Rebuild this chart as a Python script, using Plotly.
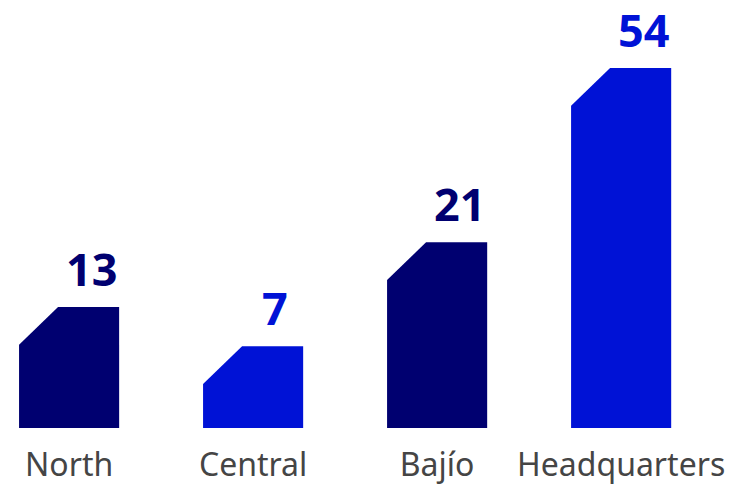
import plotly.graph_objects as go

# Regions and their headline values
regions = ["North", "Central", "Bajío", "Headquarters"]
values = [13, 7, 21, 54]
# Bar heights as drawn (relative, tallest = 100) - not proportional to values
bar_heights = [33.6, 22.7, 51.6, 100]
colors = ["#000070", "#0012D6", "#000070", "#0012D6"]

# Geometry (in axis units)
half_w = 0.272      # half bar width
cut_x = 0.212       # chamfer width
cut_y = 10.5        # chamfer height
label_dx = 0.12     # value label offset toward the flat top

fig = go.Figure()

for i, (h, c) in enumerate(zip(bar_heights, colors)):
    xs = [i - half_w, i - half_w, i - half_w + cut_x, i + half_w, i + half_w, i - half_w]
    ys = [0, h - cut_y, h, h, 0, 0]
    fig.add_trace(go.Scatter(
        x=xs, y=ys, mode="lines", fill="toself",
        fillcolor=c, line=dict(color=c, width=0),
        hoverinfo="skip", showlegend=False,
    ))

for i, (h, v, c) in enumerate(zip(bar_heights, values, colors)):
    fig.add_annotation(
        x=i + label_dx, y=h, text=f"<b>{v}</b>",
        showarrow=False, yanchor="bottom", yshift=7, borderpad=0,
        font=dict(family="Noto Sans", size=45, color=c),
    )

fig.update_layout(
    width=747, height=490,
    margin=dict(l=0, r=0, t=0, b=62),
    plot_bgcolor="white", paper_bgcolor="white",
    xaxis=dict(
        range=[-0.3755, 3.684],
        tickvals=list(range(len(regions))),
        ticktext=regions,
        showgrid=False, zeroline=False, showline=False,
        ticks="", ticklabelstandoff=15,
        tickfont=dict(family="Noto Sans", size=32, color="#454545"),
    ),
    yaxis=dict(
        range=[0, 118.9],
        visible=False, showgrid=False, zeroline=False,
    ),
)

# drop the default page margin so the figure fills the window
fig.write_html(
    "out.html",
    config={"displayModeBar": False},
    post_script="document.body.style.margin='0';",
)
